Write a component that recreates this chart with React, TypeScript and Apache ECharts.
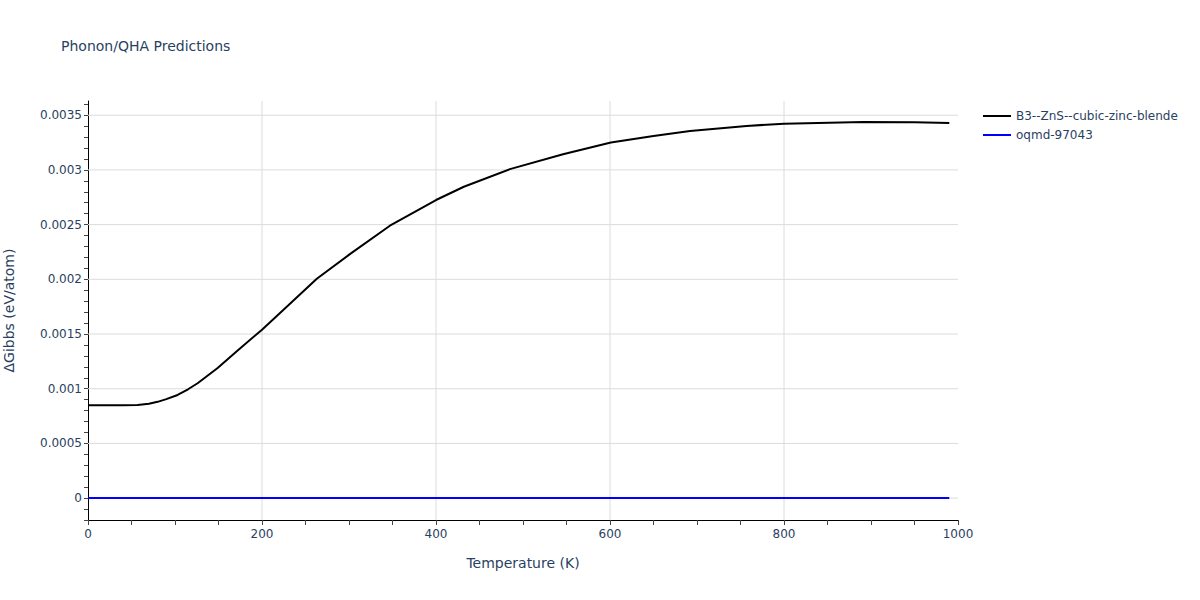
import React, { useEffect, useRef } from "react";
import * as echarts from "echarts";

const temps = [0, 20, 40, 57, 70, 80, 90, 103, 115, 126, 149, 172, 200, 230, 263, 301, 347, 400, 432, 485, 546, 601, 650, 692, 757, 800, 891, 950, 990];
const gibbsB3 = [0.000848, 0.000849, 0.00085, 0.000852, 0.000862, 0.00088, 0.000905, 0.000943, 0.000995, 0.00105, 0.00119, 0.00135, 0.00154, 0.00176, 0.002005, 0.00223, 0.00249, 0.002725, 0.002846, 0.003007, 0.003144, 0.00325, 0.00331, 0.003356, 0.003402, 0.003423, 0.003438, 0.003436, 0.003429];
const oqmdTemps = [0, 990];
const oqmdValues = [0, 0];
const yGridValues = [0, 0.0005, 0.001, 0.0015, 0.002, 0.0025, 0.003, 0.0035];
const xGridValues = [200, 400, 600, 800];
const X_MIN = 0;
const X_MAX = 1000;
const Y_MIN = -0.0002;
const Y_MAX = 0.00363;

const FONT = "'DejaVu Sans', Verdana, sans-serif";
const TEXT = "#2a3f5f";
const GRID = "#dcdcdc";

export default function App() {
  const ref = useRef<HTMLDivElement>(null);
  useEffect(() => {
    if (!ref.current) return;
    const chart = echarts.init(ref.current, undefined, { renderer: "svg" });
    const isMajor = (v: number) => Math.abs(Math.round(v / 0.0005) * 0.0005 - v) < 1e-9;
    const gridSeries = [
      ...yGridValues.map((v) => ({
        name: "hgrid" + v,
        type: "line",
        data: [[X_MIN, v], [X_MAX, v]],
        showSymbol: false,
        silent: true,
        z: 1,
        lineStyle: { color: GRID, width: 1 },
        emphasis: { disabled: true },
        tooltip: { show: false },
      })),
      ...xGridValues.map((v) => ({
        name: "vgrid" + v,
        type: "line",
        data: [[v, Y_MIN], [v, Y_MAX]],
        showSymbol: false,
        silent: true,
        z: 1,
        lineStyle: { color: GRID, width: 1 },
        emphasis: { disabled: true },
        tooltip: { show: false },
      })),
    ];
    chart.setOption({
      animation: false,
      textStyle: { fontFamily: FONT },
      title: {
        text: "Phonon/QHA Predictions",
        left: 56,
        top: 34,
        textStyle: { fontFamily: FONT, fontSize: 14, fontWeight: "normal", color: TEXT },
      },
      legend: {
        orient: "vertical",
        left: 978,
        top: 105,
        itemWidth: 28,
        itemHeight: 2,
        itemGap: 7,
        icon: "rect",
        textStyle: { fontFamily: FONT, fontSize: 12, color: TEXT },
        data: ["B3--ZnS--cubic-zinc-blende", "oqmd-97043"],
      },
      grid: { left: 88, right: 242, top: 101, bottom: 80, containLabel: false, outerBoundsMode: "none" },
      xAxis: {
        type: "value",
        min: X_MIN,
        max: X_MAX,
        interval: 200,
        name: "Temperature (K)",
        nameLocation: "middle",
        nameGap: 36,
        nameTextStyle: { fontFamily: FONT, fontSize: 14, color: TEXT },
        axisLine: { show: true, onZero: false, lineStyle: { color: "#000", width: 1 } },
        axisTick: { show: true, length: 5, lineStyle: { color: "#444" } },
        minorTick: { show: true, splitNumber: 4, length: 5, lineStyle: { color: "#444" } },
        axisLabel: { fontFamily: FONT, fontSize: 12, color: TEXT, margin: 8, formatter: (v: number) => String(v) },
        splitLine: { show: false },
      },
      yAxis: {
        type: "value",
        min: Y_MIN,
        max: Y_MAX,
        interval: 0.0001,
        name: "ΔGibbs (eV/atom)",
        nameLocation: "middle",
        nameGap: 72,
        nameTextStyle: { fontFamily: FONT, fontSize: 14, color: TEXT },
        axisLine: { show: true, onZero: false, lineStyle: { color: "#000", width: 1 } },
        axisTick: { show: true, length: 4, lineStyle: { color: "#444" } },
        axisLabel: {
          fontFamily: FONT,
          fontSize: 12,
          color: TEXT,
          margin: 6,
          showMaxLabel: false,
          formatter: (v: number) => (isMajor(v) ? String(Math.round(v * 10000) / 10000) : ""),
        },
        splitLine: { show: false },
      },
      series: [
        ...gridSeries,
        {
          name: "oqmd-97043",
          type: "line",
          data: oqmdTemps.map((t, i) => [t, oqmdValues[i]]),
          showSymbol: false,
          z: 3,
          lineStyle: { color: "#0000ff", width: 2 },
          itemStyle: { color: "#0000ff" },
        },
        {
          name: "B3--ZnS--cubic-zinc-blende",
          type: "line",
          data: temps.map((t, i) => [t, gibbsB3[i]]),
          showSymbol: false,
          smooth: false,
          z: 4,
          lineStyle: { color: "#000", width: 2 },
          itemStyle: { color: "#000" },
        },
      ],
    });
    return () => chart.dispose();
  }, []);
  return <div ref={ref} style={{ width: 1200, height: 600, position: "absolute", left: 0, top: 0 }} />;
}
